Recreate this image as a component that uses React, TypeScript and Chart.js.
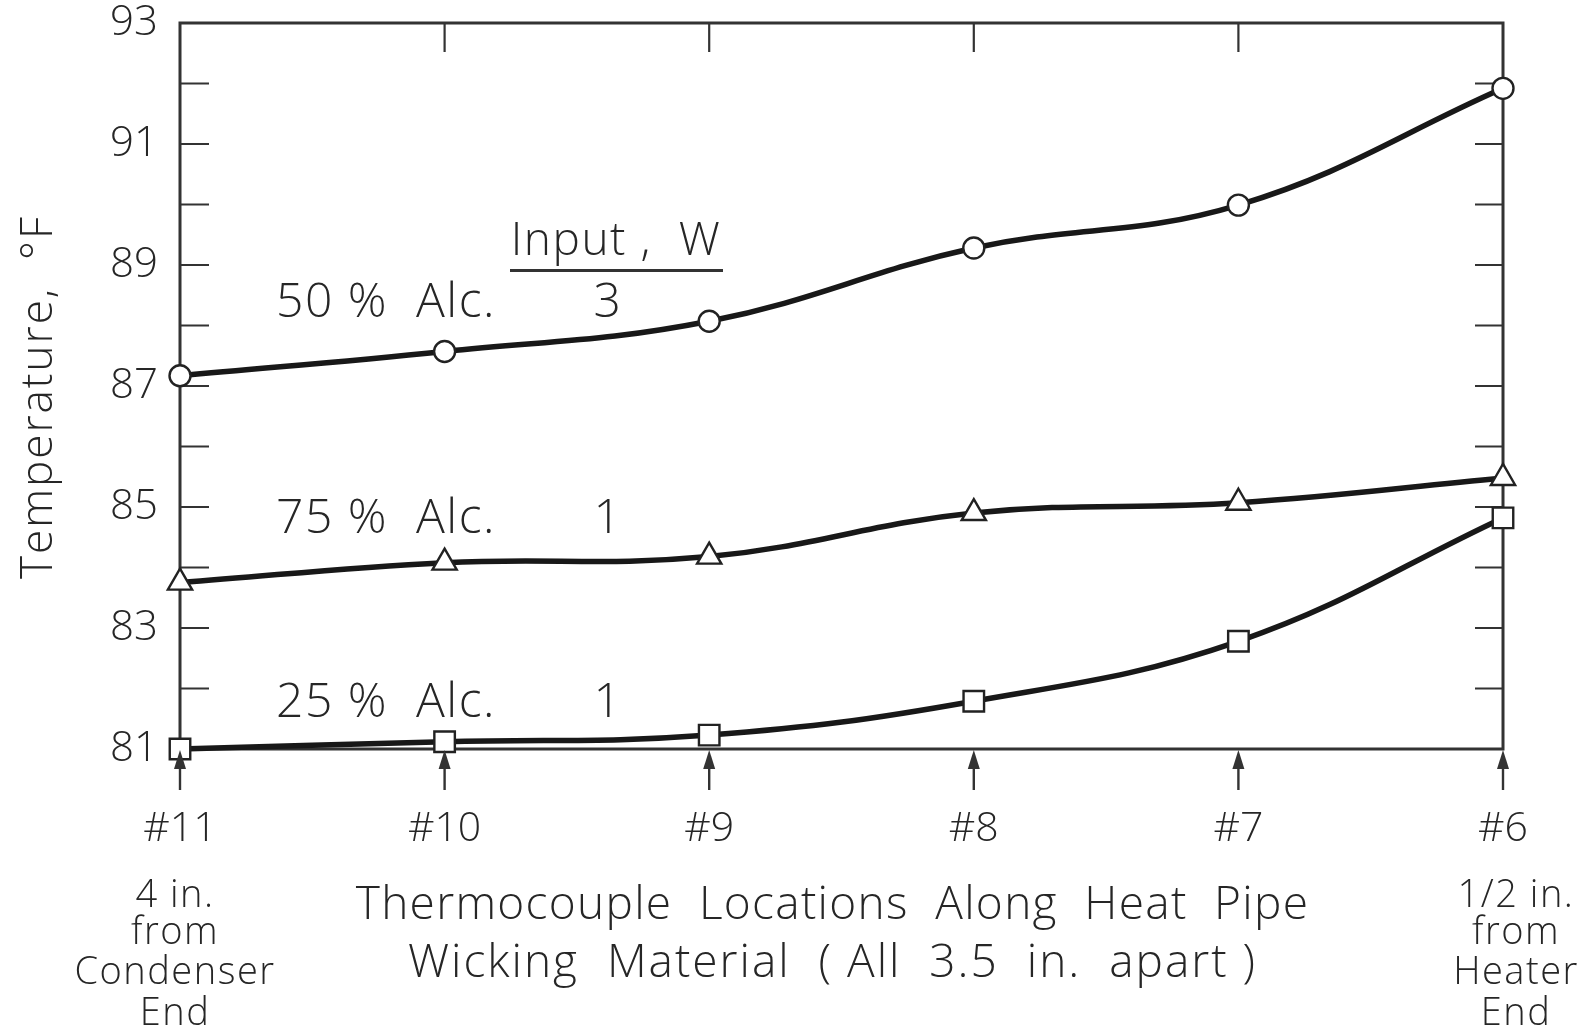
import React, { useEffect, useRef } from "react";
import { Chart, registerables } from "chart.js";

Chart.register(...registerables);

// Thermocouple stations along the wick, condenser end first
const locations = ["#11", "#10", "#9", "#8", "#7", "#6"];
const condenserNote = ["4 in.", "from", "Condenser", "End"];
const heaterNote = ["1/2 in.", "from", "Heater", "End"];

// Wick temperatures (°F) at each station
const alc50 = [87.17, 87.57, 88.07, 89.28, 89.99, 91.92];
const alc75 = [83.75, 84.08, 84.18, 84.9, 85.07, 85.48];
const alc25 = [81.0, 81.12, 81.23, 81.79, 82.78, 84.82];

const seriesNames = ["50 %  Alc.", "75 %  Alc.", "25 %  Alc."];
const inputWatts = ["3", "1", "1"];

const yMin = 81;
const yMax = 93;

const xTitle = ["Thermocouple  Locations  Along  Heat  Pipe", "Wicking  Material  ( All  3.5  in.  apart )"];
const yTitle = "Temperature,  °F";
const inputHeader = "Input ,  W";

const FONT = '"Open Sans", "DejaVu Sans", sans-serif';
const INK = "#262626";

const framePlugin = {
  id: "frame",
  beforeDatasetsDraw(chart: any) {
    const { ctx, chartArea: a, scales } = chart;
    const x = scales.x;
    const y = scales.y;
    ctx.save();
    ctx.strokeStyle = "#333";
    ctx.lineWidth = 3;
    ctx.strokeRect(a.left, a.top, a.right - a.left, a.bottom - a.top);
    ctx.lineWidth = 2.2;
    // inward ticks on left and right at every degree
    for (let v = yMin + 1; v < yMax; v++) {
      const py = y.getPixelForValue(v);
      ctx.beginPath();
      ctx.moveTo(a.left, py);
      ctx.lineTo(a.left + 29, py);
      ctx.moveTo(a.right - 28, py);
      ctx.lineTo(a.right, py);
      ctx.stroke();
    }
    // ticks hanging from the top border at inner stations
    for (let i = 1; i < locations.length - 1; i++) {
      const px = x.getPixelForValue(i);
      ctx.beginPath();
      ctx.moveTo(px, a.top);
      ctx.lineTo(px, a.top + 29);
      ctx.stroke();
    }
    ctx.restore();
  },
  afterDraw(chart: any) {
    const { ctx, chartArea: a, scales } = chart;
    const x = scales.x;
    const y = scales.y;
    ctx.save();
    // station arrows below the axis
    ctx.fillStyle = "#333";
    ctx.strokeStyle = "#333";
    ctx.lineWidth = 2.4;
    for (let i = 0; i < locations.length; i++) {
      const px = x.getPixelForValue(i);
      ctx.beginPath();
      ctx.moveTo(px, a.bottom + 14);
      ctx.lineTo(px, a.bottom + 41);
      ctx.stroke();
      ctx.beginPath();
      ctx.moveTo(px, a.bottom + 1);
      ctx.lineTo(px - 6, a.bottom + 20);
      ctx.lineTo(px + 6, a.bottom + 20);
      ctx.closePath();
      ctx.fill();
    }

    ctx.fillStyle = INK;
    ctx.textAlign = "center";
    ctx.textBaseline = "middle";
    (ctx as any).letterSpacing = "1.5px";

    // end-station notes
    ctx.font = `300 38px ${FONT}`;
    const noteRows = [147, 184, 224, 265];
    const px0 = x.getPixelForValue(0);
    const px5 = x.getPixelForValue(locations.length - 1);
    condenserNote.forEach((t, k) => ctx.fillText(t, px0 - 5, a.bottom + noteRows[k]));
    heaterNote.forEach((t, k) => ctx.fillText(t, px5 + 13, a.bottom + noteRows[k]));

    // x title
    ctx.font = `300 46px ${FONT}`;
    const cx = (a.left + a.right) / 2 - 9;
    (ctx as any).letterSpacing = "1.3px";
    ctx.fillText(xTitle[0], cx, a.bottom + 157);
    (ctx as any).letterSpacing = "2px";
    ctx.fillText(xTitle[1], cx, a.bottom + 215);

    // y title
    ctx.save();
    ctx.font = `300 44px ${FONT}`;
    ctx.translate(39, 397);
    ctx.rotate(-Math.PI / 2);
    ctx.fillText(yTitle, 0, 0);
    ctx.restore();

    // series key written beside the curves
    (ctx as any).letterSpacing = "1.5px";
    ctx.font = `300 48px ${FONT}`;
    ctx.textAlign = "left";
    const labelY = [88.36, 84.79, 81.75];
    seriesNames.forEach((t, k) => {
      const py = y.getPixelForValue(labelY[k]);
      ctx.fillText(t, a.left + 96, py);
    });
    ctx.textAlign = "center";
    inputWatts.forEach((t, k) => {
      const py = y.getPixelForValue(labelY[k]);
      ctx.fillText(t, a.left + 428, py);
    });
    ctx.font = `300 46px ${FONT}`;
    const hy = y.getPixelForValue(89.39);
    ctx.fillText(inputHeader, a.left + 436, hy);
    ctx.lineWidth = 3;
    ctx.strokeStyle = "#333";
    ctx.beginPath();
    ctx.moveTo(a.left + 330, hy + 29);
    ctx.lineTo(a.left + 543, hy + 29);
    ctx.stroke();
    ctx.restore();
  },
};

export default function App() {
  const canvasRef = useRef<HTMLCanvasElement | null>(null);

  useEffect(() => {
    const canvas = canvasRef.current;
    if (!canvas) return;
    const series = [
      { data: alc50, style: "circle", radius: 10.5 },
      { data: alc75, style: "triangle", radius: 14 },
      { data: alc25, style: "rect", radius: 14.5 },
    ];
    const chart = new Chart(canvas, {
      type: "line",
      data: {
        datasets: series.map((s) => ({
          data: s.data.map((v, i) => ({ x: i, y: v })),
          borderColor: "#181818",
          borderWidth: 5.5,
          tension: 0.4,
          pointStyle: s.style as any,
          pointRadius: s.radius,
          pointBorderWidth: 2.4,
          pointBorderColor: "#222",
          pointBackgroundColor: "#fff",
          clip: false as any,
        })),
      },
      options: {
        animation: false,
        responsive: false,
        devicePixelRatio: 1,
        layout: { padding: { top: 23, right: 93, left: 0, bottom: 0 } },
        plugins: { legend: { display: false }, tooltip: { enabled: false } },
        scales: {
          x: {
            type: "linear",
            min: 0,
            max: locations.length - 1,
            grid: { display: false, drawTicks: false },
            border: { display: false },
            afterFit: (s: any) => {
              s.height = 283;
              s.paddingLeft = 0;
              s.paddingRight = 0;
            },
            afterBuildTicks: (s: any) => {
              s.ticks = locations.map((_, i) => ({ value: i }));
            },
            ticks: {
              autoSkip: false,
              maxRotation: 0,
              padding: 56,
              color: INK,
              font: { family: FONT, size: 41, weight: 300 as any },
              callback: (v: any) => locations[Number(v)] ?? "",
            },
          },
          y: {
            min: yMin,
            max: yMax,
            grid: { display: false, drawTicks: false },
            border: { display: false },
            afterFit: (s: any) => {
              s.width = 180;
              s.paddingTop = 0;
              s.paddingBottom = 0;
            },
            ticks: {
              stepSize: 1,
              padding: 22,
              color: INK,
              font: { family: FONT, size: 42, weight: 300 as any },
              callback: (v: any) => (Number(v) % 2 === 1 ? String(v) : ""),
            },
          },
        },
      },
      plugins: [framePlugin],
    });
    return () => chart.destroy();
  }, []);

  return (
    <div style={{ position: "absolute", left: 0, top: 0, width: 1596, height: 1032, background: "#fff" }}>
      <canvas ref={canvasRef} width={1596} height={1032} style={{ display: "block" }} />
    </div>
  );
}
